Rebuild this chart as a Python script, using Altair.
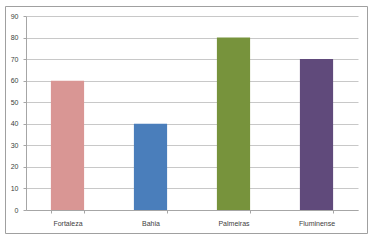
import altair as alt
import pandas as pd

teams = ["Fortaleza", "Bahia", "Palmeiras", "Fluminense"]
values = [60, 40, 80, 70]
colors = ["#D99694", "#4A7EBB", "#77933C", "#604A7B"]

df = pd.DataFrame({"team": teams, "value": values})

bars = alt.Chart(df).mark_bar(stroke=None).encode(
    x=alt.X("team:N", sort=teams, title=None,
            scale=alt.Scale(paddingInner=0.6, paddingOuter=0.3),
            axis=alt.Axis(labelAngle=0, tickBand="extent", tickSize=3, labelPadding=6,
                          domainColor="#a6a6a6", tickColor="#a6a6a6", grid=False,
                          labelFont="Liberation Sans", labelFontSize=7, labelColor="#404040")),
    y=alt.Y("value:Q", title=None,
            scale=alt.Scale(domain=[0, 90], nice=False),
            axis=alt.Axis(values=list(range(0, 91, 10)), tickSize=3, labelPadding=5,
                          domainColor="#a6a6a6", tickColor="#a6a6a6",
                          gridColor="#c8c8c8", gridWidth=1,
                          labelFont="Liberation Sans", labelFontSize=7, labelColor="#404040")),
    color=alt.Color("team:N", sort=teams,
                    scale=alt.Scale(domain=teams, range=colors), legend=None),
)

border = alt.Chart(pd.DataFrame({"a": [0]})).mark_rect(
    fill=None, stroke="#a0a0a0", strokeWidth=1, clip=False
).encode(
    x=alt.value(-20.5), x2=alt.value(341.5), y=alt.value(-9.5), y2=alt.value(217.5)
)

chart = alt.layer(border, bars).properties(
    width=332, height=194,
    autosize=alt.AutoSizeParams(type="none"),
    padding={"left": 26, "top": 16, "right": 17, "bottom": 30},
    background="white",
).configure_view(stroke=None)

chart.save("out.html", embed_options={"renderer": "svg", "actions": False})
